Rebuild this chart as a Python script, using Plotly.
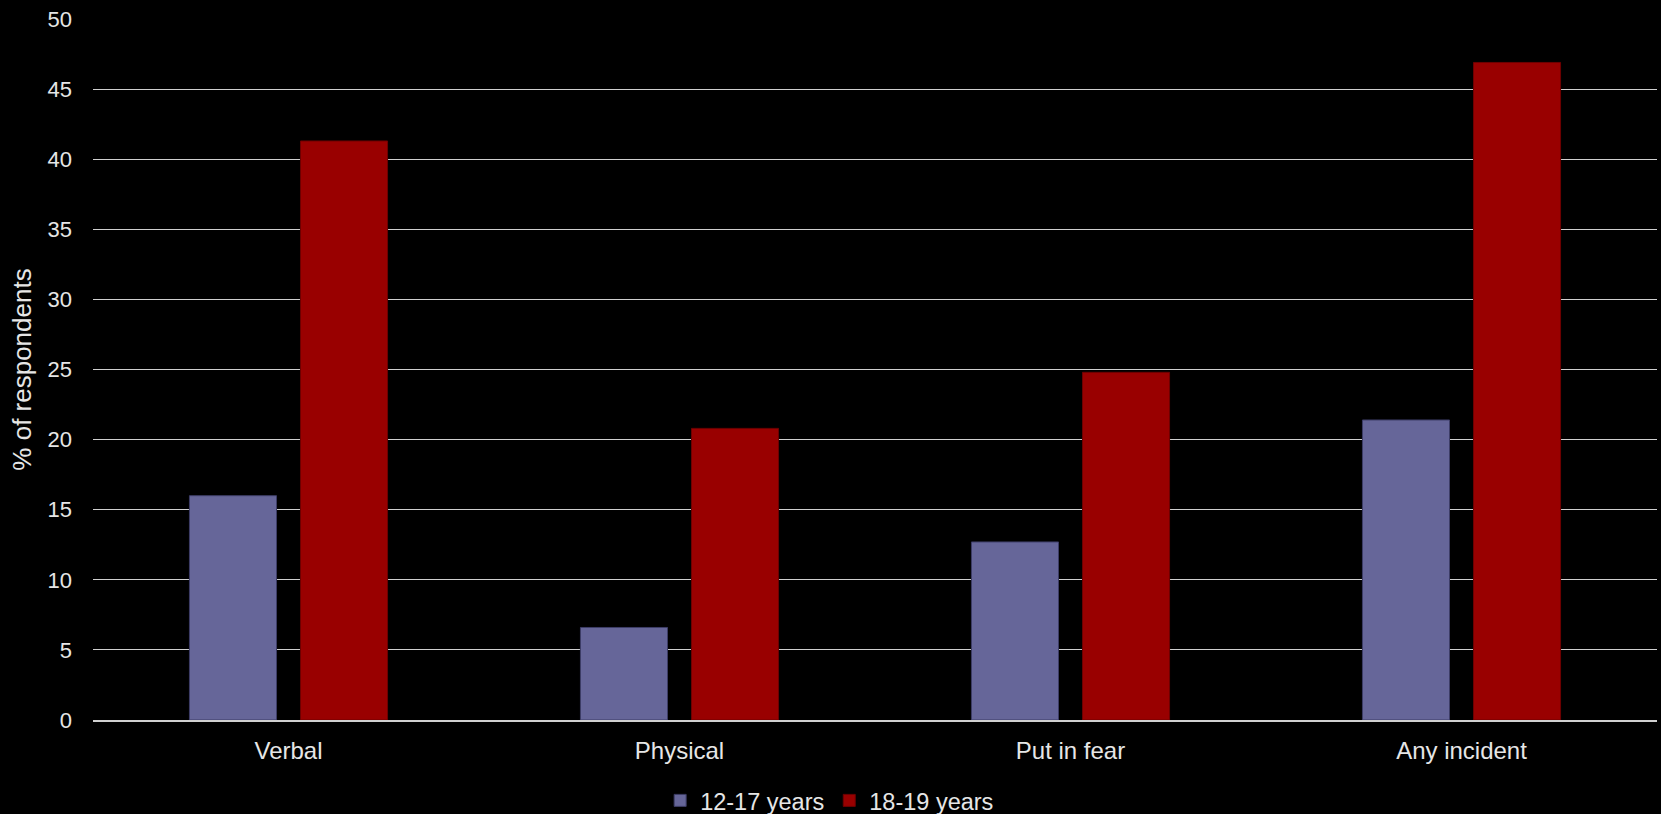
import plotly.graph_objects as go

categories = ["Verbal", "Physical", "Put in fear", "Any incident"]
series_names = ["12-17 years", "18-19 years"]
values_12_17 = [16.0, 6.6, 12.7, 21.4]
values_18_19 = [41.3, 20.8, 24.8, 46.9]
y_ticks = [0, 5, 10, 15, 20, 25, 30, 35, 40, 45, 50]

FONT = "Liberation Sans, Arial, sans-serif"
TXT = "#e6e6e6"

fig = go.Figure()
fig.add_trace(go.Bar(
    x=categories, y=values_12_17, name=series_names[0],
    marker=dict(color="#666699", line=dict(color="#3d3d66", width=1)),
))
fig.add_trace(go.Bar(
    x=categories, y=values_18_19, name=series_names[1],
    marker=dict(color="#990000", line=dict(color="#6e0000", width=1)),
))

fig.update_layout(
    width=1661, height=814,
    paper_bgcolor="black", plot_bgcolor="black",
    margin=dict(l=93, r=4, t=19, b=94, autoexpand=False),
    barmode="group", bargap=0.432, bargroupgap=0.216,
    font=dict(family=FONT, size=22, color=TXT),
    showlegend=True,
    legend=dict(
        orientation="h", x=0.471, xanchor="center", y=-0.115, yanchor="middle",
        font=dict(family=FONT, size=23.5, color=TXT),
        itemwidth=30, bgcolor="rgba(0,0,0,0)", traceorder="normal",
    ),
)
fig.update_yaxes(
    range=[0, 50], tickvals=y_ticks, ticktext=[str(v) for v in y_ticks],
    showgrid=True, gridcolor="#d0d0d0", gridwidth=1,
    zeroline=False, showline=False,
    ticks="", ticklabelstandoff=20,
    tickfont=dict(family=FONT, size=22, color=TXT),
    title=dict(text="% of respondents", font=dict(family=FONT, size=26, color=TXT), standoff=8),
)
fig.update_xaxes(
    showline=True, linecolor="#d0d0d0", linewidth=2,
    showgrid=False, ticks="", ticklabelstandoff=8,
    tickfont=dict(family=FONT, size=24, color=TXT),
)

fig.write_html("out.html")
